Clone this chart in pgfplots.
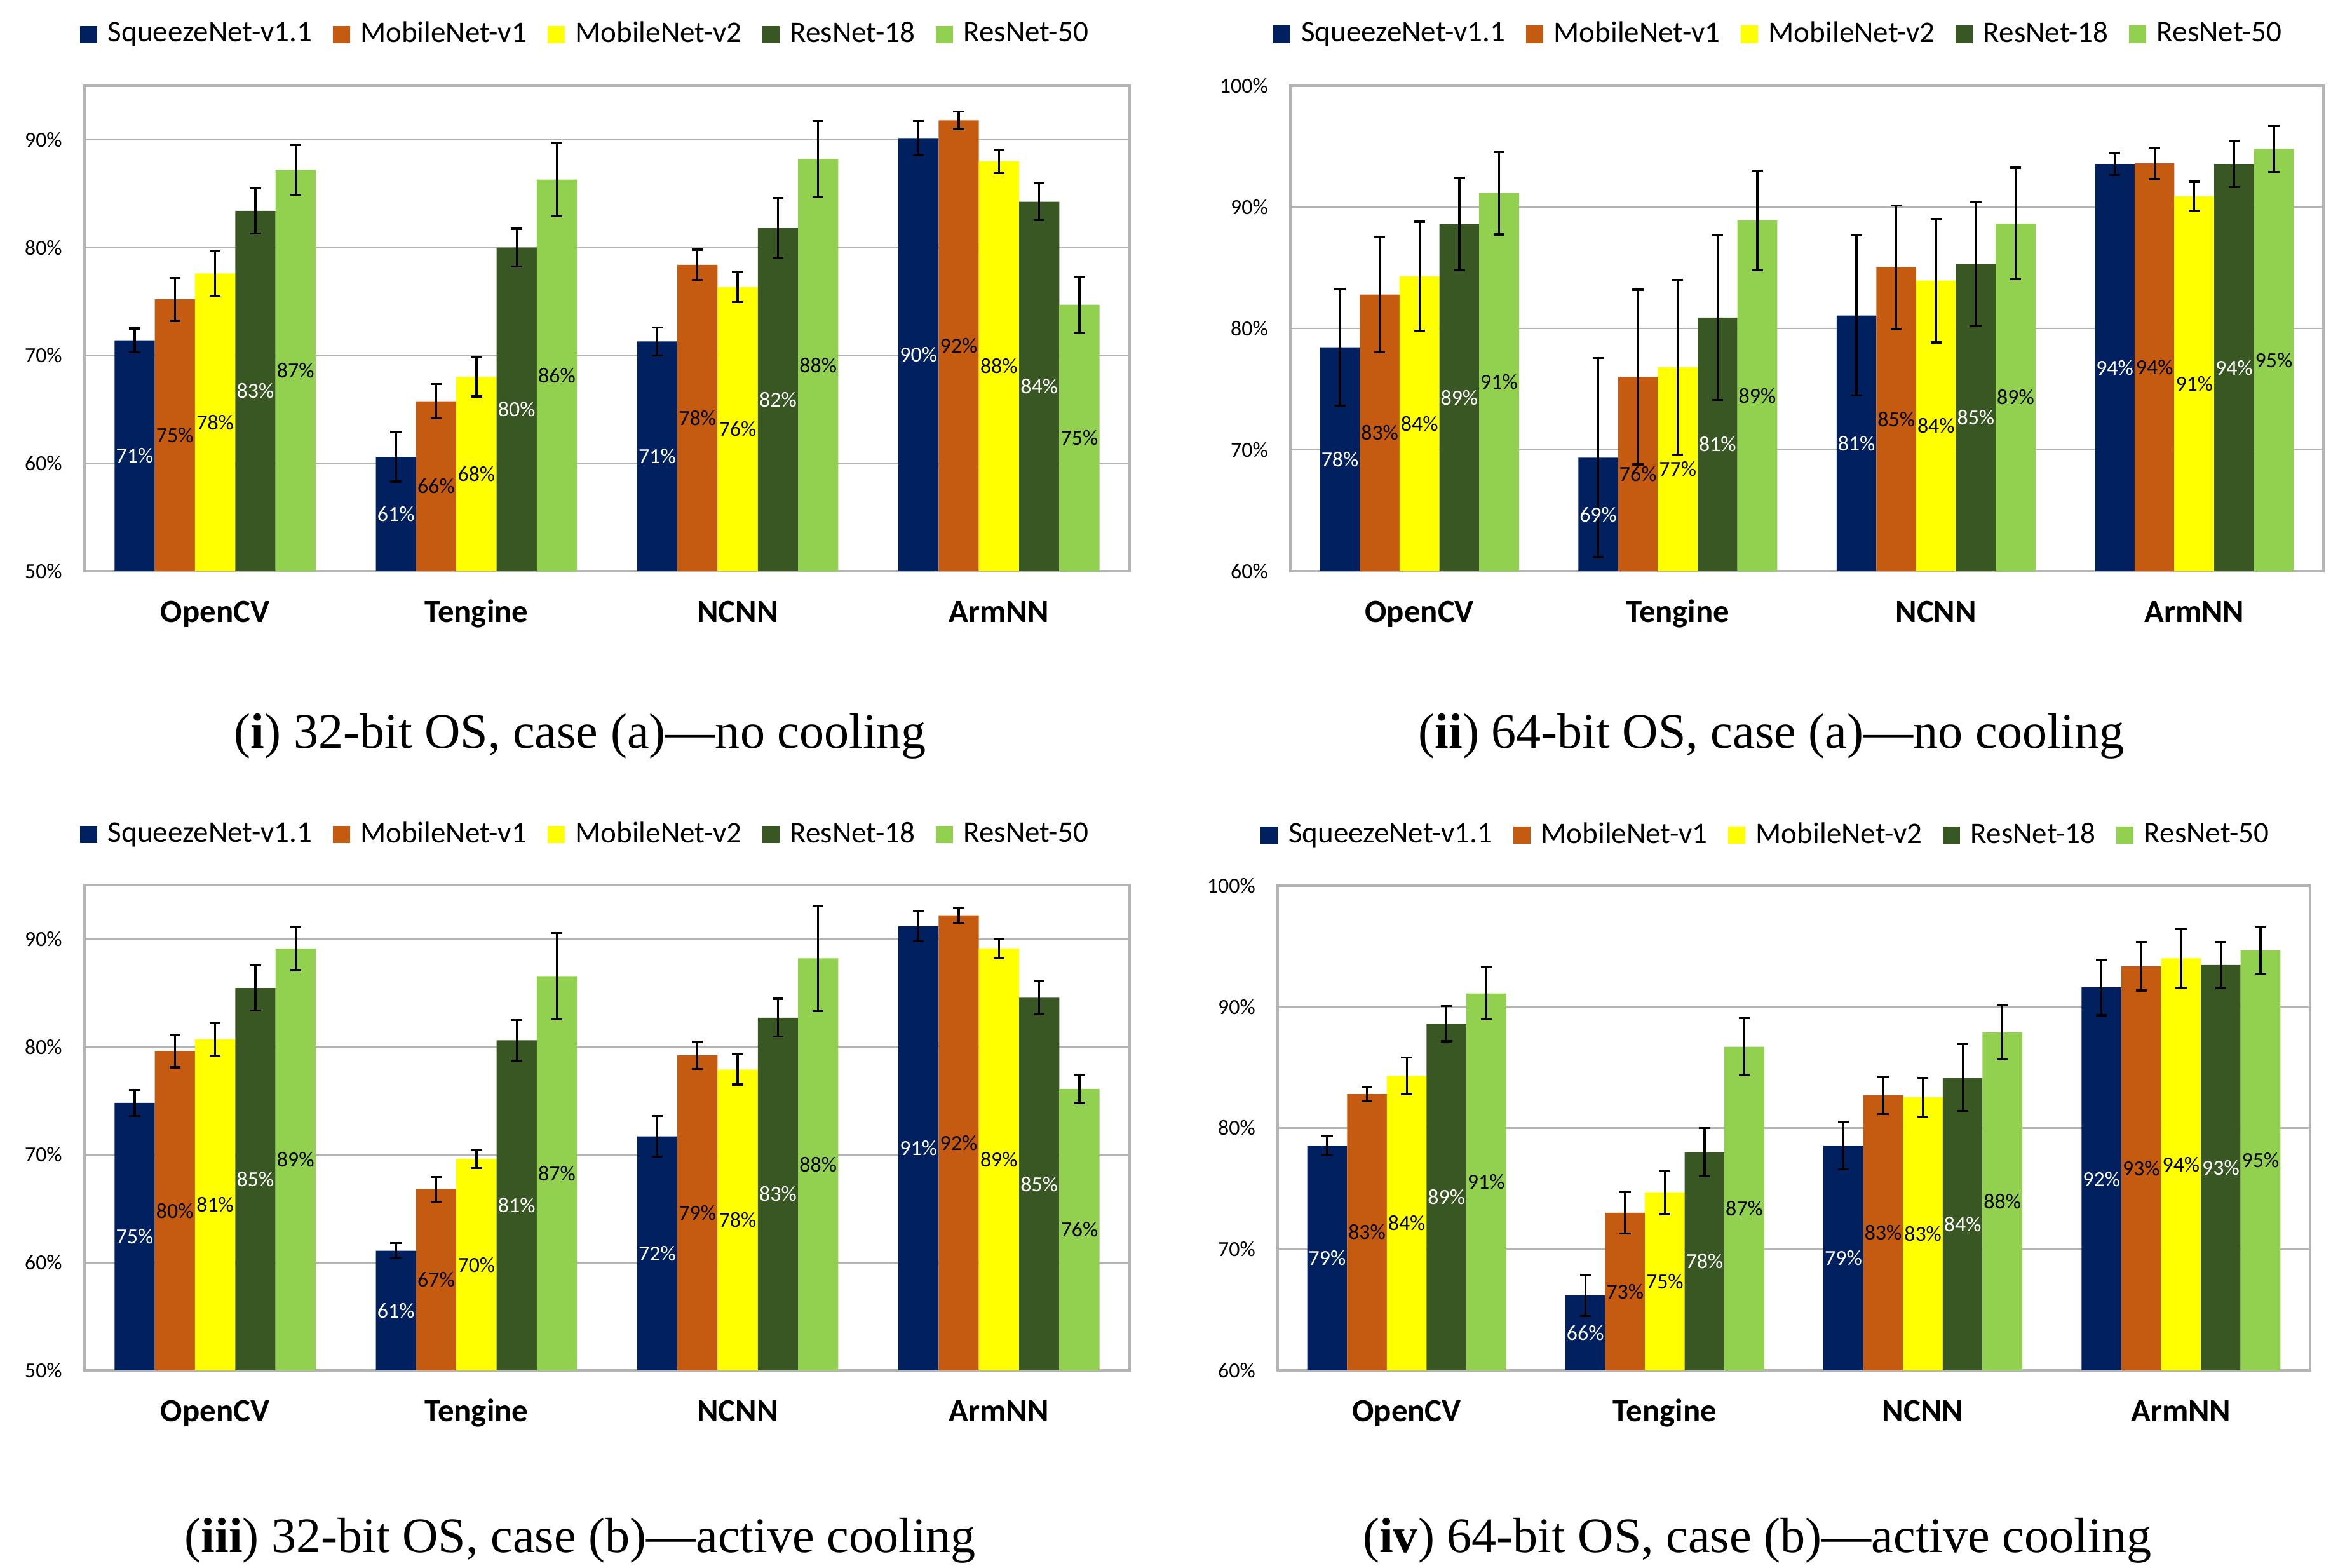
\documentclass[border=0pt]{standalone}
\usepackage{pgfplots}
\pgfplotsset{compat=1.18}
\usepackage{pgfplotstable}
\usepackage{fontspec}
\setmainfont{Carlito}
\newfontfamily\capfont{Liberation Serif}

\definecolor{sqz}{HTML}{002060}
\definecolor{mob1}{HTML}{C55A11}
\definecolor{mob2}{HTML}{FFFF00}
\definecolor{res18}{HTML}{385723}
\definecolor{res50}{HTML}{92D050}
\definecolor{gridgray}{HTML}{B4B4B4}

\pgfkeys{/pgf/number format/assume math mode=true}

% columns: value and error bar half-width, per network
\pgfplotstableread{
x sq    sqe  mv1   mv1e mv2   mv2e r18   r18e r50  r50e
0 71.4  1.1  75.2  2.0  77.6  2.05 83.4  2.1  87.2 2.3
1 60.6  2.3  65.75 1.6  68.0  1.8  80.0  1.75 86.3 3.4
2 71.3  1.3  78.4  1.4  76.35 1.4  81.8  2.8  88.2 3.55
3 90.15 1.6  91.8  0.8  88.0  1.1  84.25 1.7  74.7 2.6
}\tabAa
\pgfplotstableread{
x sq    sqe  mv1   mv1e mv2   mv2e r18   r18e r50   r50e
0 78.45 4.8  82.8  4.75 84.3  4.5  88.6  3.8  91.15 3.4
1 69.35 8.2  76.0  7.2  76.8  7.2  80.9  6.8  88.9  4.1
2 81.07 6.6  85.04 5.1  83.94 5.1  85.3  5.1  88.65 4.6
3 93.55 0.9  93.6  1.3  90.9  1.2  93.55 1.9  94.8  1.9
}\tabAb
\pgfplotstableread{
x sq    sqe  mv1   mv1e mv2   mv2e r18   r18e r50   r50e
0 74.8  1.2  79.6  1.5  80.7  1.5  85.45 2.1  89.1  2.0
1 61.1  0.7  66.8  1.15 69.6  0.85 80.6  1.9  86.55 4.0
2 71.7  1.9  79.2  1.25 77.9  1.4  82.7  1.75 88.2  4.9
3 91.2  1.4  92.2  0.7  89.1  0.9  84.55 1.55 76.1  1.3
}\tabBa
\pgfplotstableread{
x sq    sqe  mv1   mv1e mv2   mv2e r18   r18e r50   r50e
0 78.55 0.8  82.8  0.6  84.3  1.5  88.6  1.45 91.1  2.15
1 66.2  1.7  73.0  1.7  74.7  1.8  78.0  2.0  86.7  2.35
2 78.55 1.95 82.7  1.55 82.55 1.6  84.15 2.75 87.9  2.25
3 91.6  2.3  93.35 2.0  94.0  2.4  93.45 1.9  94.65 1.9
}\tabBb

\pgfplotsset{
  accchart/.style n args={3}{% ymin, ymax, half of pt per unit
    scale only axis,
    anchor=south west,
    ybar=0pt, bar width=0.154,
    xmin=-0.5, xmax=3.5,
    ymin=#1, ymax=#2,
    xtick={0,1,2,3},
    xticklabels={OpenCV,Tengine,NCNN,ArmNN},
    ytick distance=10,
    major tick length=0pt,
    ymajorgrids,
    major grid style={gridgray, line width=0.6pt},
    axis line style={gridgray, line width=0.7pt},
    yticklabel={\pgfmathprintnumber{\tick}\%},
    yticklabel style={font=\fontsize{7.2}{8}\selectfont, inner sep=0pt, anchor=east, xshift=-7.3pt},
    xticklabel style={font=\bfseries\fontsize{10.8}{12}\selectfont, inner sep=0pt, anchor=base, yshift=-17.2pt},
    error bars/y dir=both,
    error bars/y explicit,
    error bars/error bar style={draw=black, line width=0.7pt},
    error bars/error mark options={draw=black, rotate=90, mark size=1.85pt, line width=0.7pt},
    nodes near coords={\pgfmathprintnumber[fixed,precision=0]{\pgfplotspointmeta}\%},
    visualization depends on={y \as \rawy},
    every node near coord/.append style={font=\fontsize{7.2}{8}\selectfont, inner sep=0pt, anchor=center, yshift={-(\rawy-#1)*#3pt}},
    legend columns=-1,
    legend cell align=left,
    legend style={draw=none, fill=none, anchor=center, font=\fontsize{10}{12}\selectfont, inner sep=0pt,
      /tikz/every odd column/.append style={column sep=1.55pt},
      /tikz/every even column/.append style={column sep=4.95pt}},
    legend image code/.code={\fill[##1] (0pt,-2.87pt) rectangle (5.74pt,2.87pt);},
  },
  sqplot/.style={fill=sqz, draw=none, every node near coord/.append style={text=white}},
  m1plot/.style={fill=mob1, draw=none, every node near coord/.append style={text=black}},
  m2plot/.style={fill=mob2, draw=none, every node near coord/.append style={text=black}},
  r18plot/.style={fill=res18, draw=none, every node near coord/.append style={text=white}},
  r50plot/.style={fill=res50, draw=none, every node near coord/.append style={text=black}},
}

\newcommand{\fiveplots}[1]{%
  \addplot[sqplot] table[x=x, y=sq, y error=sqe]{#1};
  \addplot[m1plot] table[x=x, y=mv1, y error=mv1e]{#1};
  \addplot[m2plot] table[x=x, y=mv2, y error=mv2e]{#1};
  \addplot[r18plot] table[x=x, y=r18, y error=r18e]{#1};
  \addplot[r50plot] table[x=x, y=r50, y error=r50e]{#1};
  \legend{SqueezeNet-v1.1, MobileNet-v1, MobileNet-v2, ResNet-18, ResNet-50}
}

\begin{document}
\begin{tikzpicture}
\path[use as bounding box] (0pt,0pt) rectangle (784.34pt,524.45pt);

% (i) 32-bit, no cooling
\begin{axis}[accchart={50}{95}{1.8039},
  at={(28.26pt,333.41pt)}, width=349.56pt, height=162.35pt,
  legend style={at={(0.481,1.106)}}]
\fiveplots{\tabAa}
\end{axis}

% (ii) 64-bit, no cooling
\begin{axis}[accchart={60}{100}{2.0294},
  at={(431.59pt,333.41pt)}, width=345.53pt, height=162.35pt,
  legend style={at={(0.4745,1.106)}}]
\fiveplots{\tabAb}
\end{axis}

% (iii) 32-bit, active cooling
\begin{axis}[accchart={50}{95}{1.8039},
  at={(28.26pt,66.09pt)}, width=349.56pt, height=162.35pt,
  legend style={at={(0.481,1.104)}}]
\fiveplots{\tabBa}
\end{axis}

% (iv) 64-bit, active cooling
\begin{axis}[accchart={60}{100}{2.0268},
  at={(427.34pt,66.09pt)}, width=345.31pt, height=162.14pt,
  legend style={at={(0.4748,1.104)}}]
\fiveplots{\tabBb}
\end{axis}

\begin{scope}[every node/.style={anchor=base, font=\capfont\fontsize{16.6}{19}\selectfont}]
\node at (194.1pt,274.3pt) {(\textbf{i}) 32-bit OS, case (a)—no cooling};
\node at (592.5pt,274.3pt) {(\textbf{ii}) 64-bit OS, case (a)—no cooling};
\node at (194.1pt,5.3pt) {(\textbf{iii}) 32-bit OS, case (b)—active cooling};
\node at (587.7pt,5.3pt) {(\textbf{iv}) 64-bit OS, case (b)—active cooling};
\end{scope}
\end{tikzpicture}
\end{document}
